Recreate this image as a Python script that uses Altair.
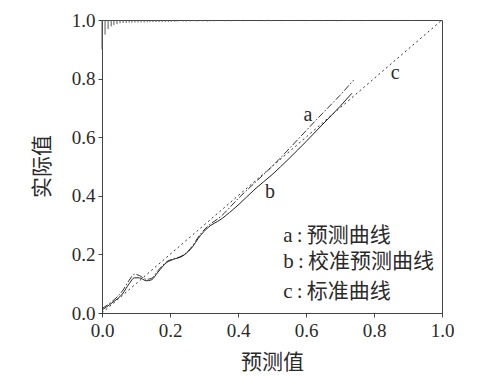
import altair as alt
import pandas as pd

# ideal (standard) line c
c_x = [0.0, 1.0]
c_y = [0.0, 1.0]

# apparent (predicted) curve a
a_x = [0.0, 0.03, 0.06, 0.08, 0.095, 0.11, 0.13, 0.145, 0.165, 0.19, 0.21, 0.235, 0.26, 0.29, 0.31,
       0.35, 0.40, 0.45, 0.50, 0.55, 0.60, 0.65, 0.70, 0.74]
a_y = [0.015, 0.04, 0.075, 0.112, 0.132, 0.128, 0.115, 0.118, 0.145, 0.175, 0.185, 0.195, 0.22, 0.27, 0.295,
       0.33, 0.39, 0.445, 0.50, 0.56, 0.622, 0.683, 0.743, 0.795]

# bias-corrected curve b
b_x = [0.0, 0.03, 0.06, 0.08, 0.095, 0.11, 0.13, 0.145, 0.165, 0.19, 0.21, 0.235, 0.26, 0.29, 0.31,
       0.35, 0.40, 0.45, 0.50, 0.55, 0.60, 0.65, 0.70, 0.735]
b_y = [0.01, 0.035, 0.065, 0.10, 0.12, 0.12, 0.11, 0.113, 0.14, 0.172, 0.183, 0.193, 0.217, 0.265, 0.29,
       0.32, 0.368, 0.423, 0.472, 0.527, 0.585, 0.645, 0.705, 0.75]

# spike histogram of predicted values at top
spike_x = [0.000, 0.009, 0.018, 0.027, 0.035, 0.044, 0.053, 0.062, 0.071, 0.080, 0.088, 0.097,
           0.106, 0.115, 0.124, 0.133, 0.141, 0.150, 0.159, 0.168, 0.177, 0.186, 0.195, 0.204, 0.214,
           0.221, 0.239, 0.248, 0.260, 0.272, 0.280, 0.295, 0.310, 0.318, 0.330, 0.345, 0.362,
           0.380, 0.415, 0.445, 0.463, 0.480, 0.497, 0.515, 0.530, 0.560, 0.600, 0.645, 0.690,
           0.725, 0.765, 0.860, 0.915]
spike_h = [0.100, 0.050, 0.031, 0.022, 0.017, 0.014, 0.011, 0.010, 0.010, 0.009, 0.009, 0.0085,
           0.0085, 0.008, 0.008, 0.0075, 0.007, 0.007, 0.007, 0.007, 0.007, 0.0065, 0.0065, 0.006, 0.006,
           0.005, 0.005, 0.005, 0.005, 0.004, 0.005, 0.004, 0.005, 0.004, 0.004, 0.004, 0.004,
           0.004, 0.004, 0.004, 0.004, 0.004, 0.004, 0.004, 0.004, 0.004, 0.004, 0.004, 0.004,
           0.003, 0.004, 0.003, 0.003]

curve_labels = ["a", "b", "c"]
curve_label_x = [0.606, 0.494, 0.862]
curve_label_y = [0.677, 0.414, 0.820]

legend_texts = ["a\u2009:\u2009预测曲线", "b\u2009:\u2009校准预测曲线", "c\u2009:\u2009标准曲线"]
legend_y = [0.263, 0.174, 0.072]

SERIF = "Liberation Serif, 'Noto Sans CJK SC'"
INK = "#2a2a2a"

xs = alt.Scale(domain=[0, 1], nice=False, zero=False)
ys = alt.Scale(domain=[0, 1], nice=False, zero=False)
ticks = [0, 0.2, 0.4, 0.6, 0.8, 1.0]

xaxis = alt.Axis(title="预测值", values=ticks, format=".1f", grid=False, tickSize=4,
                 labelFontSize=19, labelFont=SERIF, labelColor=INK, labelPadding=4, labelFlush=False,
                 titleFont=SERIF, titleFontSize=21, titleColor=INK, titleFontWeight="normal",
                 titleY=49, titleBaseline="middle", domainColor="#444", tickColor="#444")
yaxis = alt.Axis(title="实际值", values=ticks, format=".1f", grid=False, tickSize=4,
                 labelFontSize=19, labelFont=SERIF, labelColor=INK, labelPadding=3, labelFlush=False,
                 titleFont=SERIF, titleFontSize=21, titleColor=INK, titleFontWeight="normal",
                 titleX=-60, titleY=146, titleBaseline="middle", domainColor="#444", tickColor="#444")

df_c = pd.DataFrame({"x": c_x, "y": c_y})
df_a = pd.DataFrame({"x": a_x, "y": a_y})
df_b = pd.DataFrame({"x": b_x, "y": b_y})
df_s = pd.DataFrame({"x": spike_x, "y": [1.0] * len(spike_x),
                     "y2": [1.0 - h for h in spike_h]})
df_l = pd.DataFrame({"t": curve_labels, "x": curve_label_x, "y": curve_label_y})
df_g = pd.DataFrame({"t": legend_texts, "x": [0.533] * 3, "y": legend_y})

line_c = alt.Chart(df_c).mark_line(color="#333", strokeWidth=1, strokeDash=[2, 3]).encode(
    x=alt.X("x:Q", scale=xs, axis=xaxis), y=alt.Y("y:Q", scale=ys, axis=yaxis))
line_a = alt.Chart(df_a).mark_line(color="#333", strokeWidth=1, strokeDash=[7, 2, 1.5, 2],
                                   interpolate="monotone").encode(x="x:Q", y="y:Q")
line_b = alt.Chart(df_b).mark_line(color="#222", strokeWidth=1,
                                   interpolate="monotone").encode(x="x:Q", y="y:Q")
spikes = alt.Chart(df_s).mark_rule(color="#555", strokeWidth=1).encode(
    x="x:Q", y="y:Q", y2="y2:Q")
labels = alt.Chart(df_l).mark_text(font=SERIF, fontSize=20, color=INK, align="center",
                                   baseline="middle").encode(x="x:Q", y="y:Q", text="t:N")
legend = alt.Chart(df_g).mark_text(font=SERIF, fontSize=21, color=INK, align="left",
                                   baseline="middle").encode(x="x:Q", y="y:Q", text="t:N")

chart = alt.layer(line_c, line_a, line_b, spikes, labels, legend).properties(
    width=340, height=293,
    autosize=alt.AutoSizeParams(type="none"),
    padding={"left": 94, "top": 12, "right": 30, "bottom": 62},
    background="white",
).configure_view(stroke="#444", strokeWidth=1)

chart.save("out.html", embed_options={"renderer": "svg", "actions": False})
